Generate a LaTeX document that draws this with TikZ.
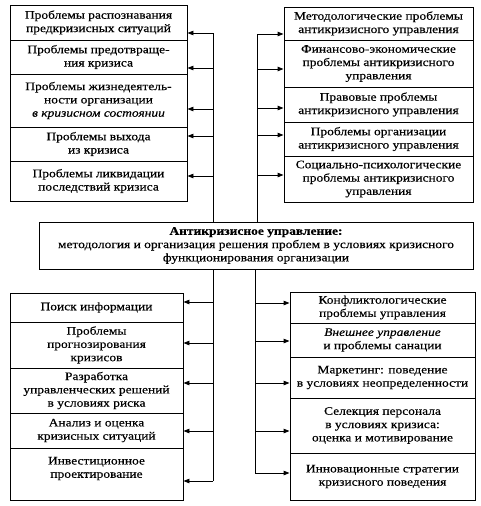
\documentclass[tikz,border=0pt]{standalone}
\usepackage{fontspec}
\setmainfont[FakeStretch=1.17,FakeBold=0.4]{Liberation Serif}
\usetikzlibrary{arrows.meta}
\tikzset{
  box/.style={draw, line width=0.9pt, inner sep=0pt, align=center,
    font=\fontsize{11.5}{13.3}\selectfont},
  trunk/.style={line width=0.9pt},
  arr/.style={line width=0.9pt, -{Triangle[length=6pt,width=4.5pt]}}
}
\newcommand\bx[6]{%
  \node[box, minimum width={(#4-#2)*1pt}, minimum height={(#5-#3)*1pt}]
    (#1) at ({(#2+#4)/2},{(#3+#5)/2}) {#6};}
\begin{document}
\begin{tikzpicture}[x=1pt,y=-1pt]
\useasboundingbox (0,0) rectangle (480,506);
% top left
\bx{a1}{10}{5}{187}{40}{Проблемы распознавания\\предкризисных ситуаций}
\bx{a2}{10}{40}{187}{74}{Проблемы предотвраще-\\ния кризиса}
\bx{a3}{10}{74}{187}{127}{Проблемы жизнедеятель-\\ности организации\\\textit{в кризисном состоянии}}
\bx{a4}{10}{127}{187}{161}{Проблемы выхода\\из кризиса}
\bx{a5}{10}{161}{187}{201}{Проблемы ликвидации\\последствий кризиса}
% top right
\bx{b1}{284}{7}{473}{40}{Методологические проблемы\\антикризисного управления}
\bx{b2}{284}{40}{473}{87}{Финансово-экономические\\проблемы антикризисного\\управления}
\bx{b3}{284}{87}{473}{122}{Правовые проблемы\\антикризисного управления}
\bx{b4}{284}{122}{473}{156}{Проблемы организации\\антикризисного управления}
\bx{b5}{284}{156}{473}{202}{Социально-психологические\\проблемы антикризисного\\управления}
% centre
\bx{c}{39}{222}{473}{269}{\textbf{Антикризисное управление:}\\методология и организация решения проблем в условиях кризисного\\функционирования организации}
% bottom left
\bx{d1}{10}{293}{183}{322}{Поиск информации}
\bx{d2}{10}{322}{183}{368}{Проблемы\\прогнозирования\\кризисов}
\bx{d3}{10}{368}{183}{413}{Разработка\\управленческих решений\\в условиях риска}
\bx{d4}{10}{413}{183}{448}{Анализ и оценка\\кризисных ситуаций}
\bx{d5}{10}{448}{183}{500}{Инвестиционное\\проектирование\\\mbox{}}
% bottom right
\bx{e1}{290}{292}{475}{323}{Конфликтологические\\проблемы управления}
\bx{e2}{290}{323}{475}{357}{\textit{Внешнее управление}\\и проблемы санации}
\bx{e3}{290}{357}{475}{398}{Маркетинг: поведение\\в условиях неопределенности}
\bx{e4}{290}{398}{475}{453}{Селекция персонала\\в условиях кризиса:\\оценка и мотивирование}
\bx{e5}{290}{453}{475}{500}{Инновационные стратегии\\кризисного поведения}
% trunk coordinates
\coordinate (ta1) at (213,33);  \coordinate (ta2) at (213,68);
\coordinate (ta3) at (213,109); \coordinate (ta4) at (213,136);
\coordinate (ta5) at (213,176);
\coordinate (tb1) at (257,34);  \coordinate (tb2) at (257,69);
\coordinate (tb3) at (257,108); \coordinate (tb4) at (257,135);
\coordinate (tb5) at (257,175);
\coordinate (td1) at (213,302); \coordinate (td2) at (213,343);
\coordinate (td3) at (213,383); \coordinate (td4) at (213,431);
\coordinate (td5) at (213,481);
\coordinate (te1) at (255,303); \coordinate (te2) at (255,341);
\coordinate (te3) at (255,383); \coordinate (te4) at (255,431);
\coordinate (te5) at (255,473);
% trunks
\draw[trunk] (c.north -| ta1) -- (ta1);
\draw[trunk] (c.north -| tb1) -- (tb1);
\draw[trunk] (c.south -| td1) -- (td5);
\draw[trunk] (c.south -| te1) -- (te5);
% arrows
\foreach \i in {1,...,5}{
  \draw[arr] (ta\i) -- (a\i.east |- ta\i);
  \draw[arr] (tb\i) -- (b\i.west |- tb\i);
  \draw[arr] (td\i) -- (d\i.east |- td\i);
  \draw[arr] (te\i) -- (e\i.west |- te\i);
}
\end{tikzpicture}
\end{document}
